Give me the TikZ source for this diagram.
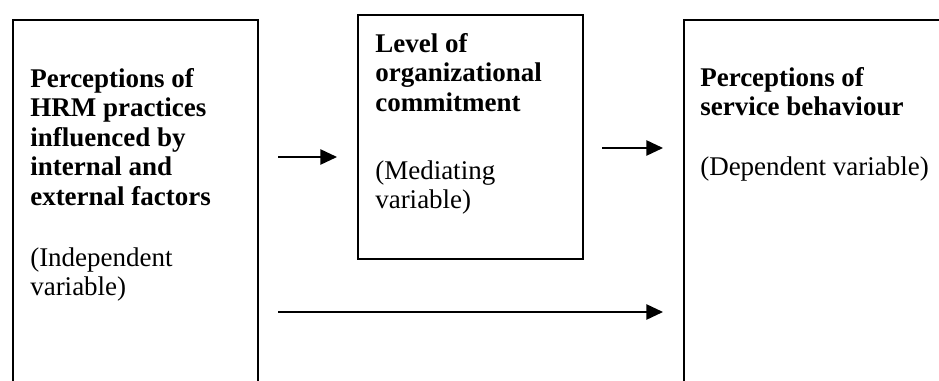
\documentclass[tikz,border=0pt]{standalone}
\usepackage{fontspec}
\setmainfont{Liberation Serif}
\usetikzlibrary{calc, arrows.meta}

\tikzset{
  varbox/.style={draw, line width=1.5pt, inner sep=0, anchor=north west},
  headtext/.style={inner sep=0, anchor=north west, align=left, font=\fontsize{20.25}{22.1}\selectfont\bfseries},
  notetext/.style={inner sep=0, anchor=north west, align=left, font=\fontsize{20.25}{22.1}\selectfont},
  link/.style={line width=1.2pt, -{Triangle[length=12.5pt, width=11.5pt]}}
}

\begin{document}
\begin{tikzpicture}[x=0.75pt, y=-0.75pt]
\useasboundingbox (0,0) rectangle (939,381);
\clip (0,0) rectangle (939,381);
\node[varbox, minimum width=183.75pt, minimum height=308pt] (indep) at (12,19) {};
\node[varbox, minimum width=168.75pt, minimum height=183pt] (med) at (357,14) {};
\node[varbox, minimum width=222.75pt, minimum height=308pt] (dep) at (683,19) {};
\node[headtext] (indephead) at (30,68) {Perceptions of\\HRM practices\\influenced by\\internal and\\external factors};
\node[notetext] (indepnote) at (30,247) {(Independent\\variable)};
\node[headtext] (medhead) at (375,33) {Level of\\organizational\\commitment};
\node[notetext] (mednote) at (375,160) {(Mediating\\variable)};
\node[headtext] (dephead) at (700,67) {Perceptions of\\service behaviour};
\node[notetext] (depnote) at (700,157) {(Dependent variable)};
\coordinate (i1) at ($(indep.north east)+(19,138)$);
\coordinate (m1) at ($(med.north west)+(-20,143)$);
\coordinate (m2) at ($(med.north east)+(18,134)$);
\coordinate (d1) at ($(dep.north west)+(-20,129)$);
\coordinate (i2) at ($(indep.north east)+(19,293)$);
\coordinate (d2) at ($(dep.north west)+(-20,293)$);
\draw[link] (i1) -- (m1);
\draw[link] (m2) -- (d1);
\draw[link] (i2) -- (d2);
\end{tikzpicture}
\end{document}
